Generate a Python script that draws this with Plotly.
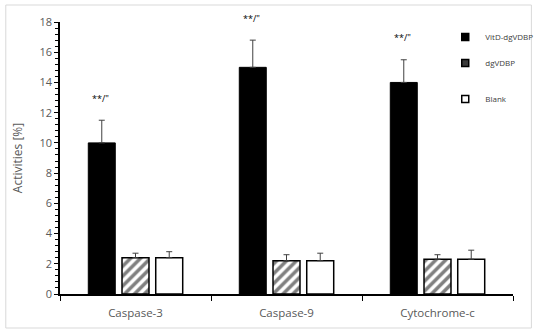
import plotly.graph_objects as go

categories = ["Caspase-3", "Caspase-9", "Cytochrome-c"]
series_names = ["VitD-dgVDBP", "dgVDBP", "Blank"]
vitd_values = [10.0, 15.0, 14.0]
vitd_errors = [1.5, 1.8, 1.5]
dgvdbp_values = [2.4, 2.2, 2.3]
dgvdbp_errors = [0.3, 0.4, 0.3]
blank_values = [2.4, 2.2, 2.3]
blank_errors = [0.4, 0.5, 0.6]
significance_labels = ['**/"', '**/"', '**/"']
y_ticks = [0, 2, 4, 6, 8, 10, 12, 14, 16, 18]

L, R, T, B = 60, 22, 22, 39
W, H = 550, 333
pw, ph = W - L - R, H - T - B

fig = go.Figure()
err_style = dict(type="data", symmetric=False, color="#404040", thickness=1, width=3)

fig.add_trace(go.Bar(
    x=categories, y=vitd_values, name=series_names[0], showlegend=False,
    marker=dict(color="black", line=dict(color="black", width=1)),
    error_y=dict(array=vitd_errors, arrayminus=[0] * 3, **err_style),
))
fig.add_trace(go.Bar(
    x=categories, y=dgvdbp_values, name=series_names[1], showlegend=False,
    marker=dict(color="white", line=dict(color="black", width=1.5),
                pattern=dict(shape="/", fgcolor="black", bgcolor="white", size=7, solidity=0.5)),
    error_y=dict(array=dgvdbp_errors, arrayminus=[0] * 3, **err_style),
))
fig.add_trace(go.Bar(
    x=categories, y=blank_values, name=series_names[2], showlegend=False,
    marker=dict(color="white", line=dict(color="black", width=1.5)),
    error_y=dict(array=blank_errors, arrayminus=[0] * 3, **err_style),
))

# legend entries
leg_colors = ["black", "#3a3a3a", "white"]
leg_names = ["legend", "legend2", "legend3"]
for name, col, lg in zip(series_names, leg_colors, leg_names):
    fig.add_trace(go.Scatter(
        x=[None], y=[None], mode="markers", name=name, legend=lg,
        marker=dict(symbol="square", size=7, color=col, line=dict(color="black", width=1.5)),
    ))

for cat, v, e, lab in zip(categories, vitd_values, vitd_errors, significance_labels):
    fig.add_annotation(x=cat, y=v + e + 0.9, text=lab, showarrow=False,
                       xshift=-35, font=dict(size=9, color="black", family="Open Sans"),
                       yanchor="bottom")

def py(pix):
    return 1 - (pix - T) / ph

def px(pix):
    return (pix - L) / pw

legend_font = dict(size=8, color="#404040", family="Open Sans")
common = dict(xanchor="left", yanchor="middle", font=legend_font, bgcolor="rgba(0,0,0,0)",
              itemwidth=30, tracegroupgap=0)
fig.update_layout(
    legend=dict(x=px(458), y=py(37), **common),
    legend2=dict(x=px(458), y=py(63), **common),
    legend3=dict(x=px(458), y=py(99), **common),
)

fig.add_shape(type="rect", xref="paper", yref="paper",
              x0=px(4), x1=px(547), y0=py(328), y1=py(5),
              line=dict(color="#d9d9d9", width=1), fillcolor="rgba(0,0,0,0)", layer="below")

fig.update_layout(
    width=W, height=H,
    margin=dict(l=L, r=R, t=T, b=B),
    paper_bgcolor="white", plot_bgcolor="white",
    barmode="group", bargap=0.33, bargroupgap=0.2,
    font=dict(family="Open Sans", color="#595959"),
    xaxis=dict(showline=True, linecolor="black", linewidth=1.5, ticks="outside",
               tickson="boundaries", ticklen=5, tickcolor="black", tickwidth=1,
               ticklabelstandoff=7,
               tickfont=dict(size=11.5, color="#595959"), showgrid=False),
    yaxis=dict(range=[0, 18], tickvals=y_ticks, showline=True, linecolor="black", linewidth=1.5,
               ticks="outside", ticklen=4, tickcolor="black", tickwidth=1,
               minor=dict(dtick=0.4, ticks="outside", ticklen=3, tickcolor="black", tickwidth=1),
               tickfont=dict(size=11, color="#595959"), showgrid=False, zeroline=False,
               title=dict(text="Activities [%]", font=dict(size=12, color="#595959"), standoff=14)),
)

fig.write_html("out.html", config={"displayModeBar": False},
               post_script="document.body.style.margin='0';")
